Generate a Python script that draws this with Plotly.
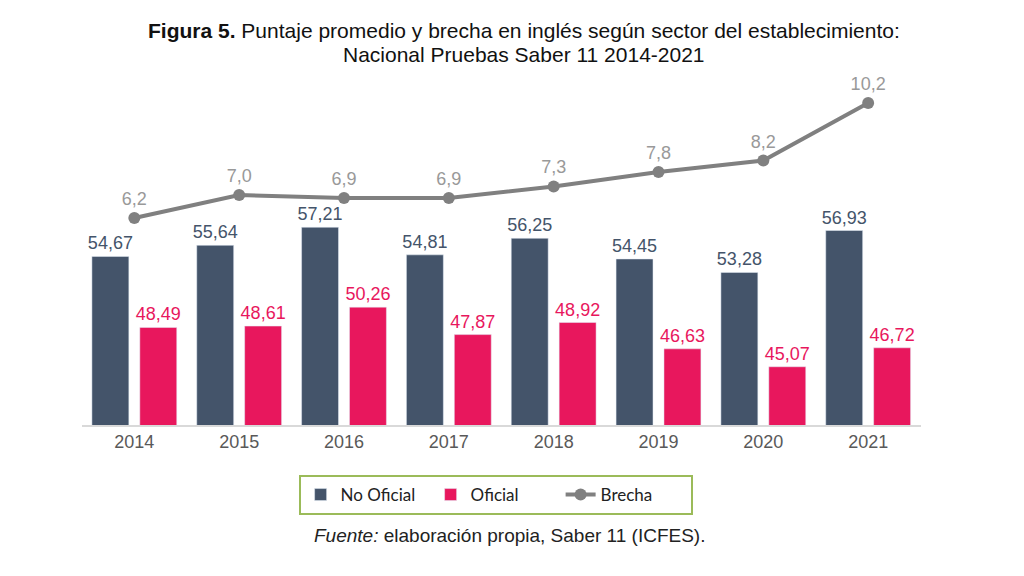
import plotly.graph_objects as go

years = ["2014", "2015", "2016", "2017", "2018", "2019", "2020", "2021"]
no_oficial = [54.67, 55.64, 57.21, 54.81, 56.25, 54.45, 53.28, 56.93]
oficial = [48.49, 48.61, 50.26, 47.87, 48.92, 46.63, 45.07, 46.72]
brecha = [6.2, 7.0, 6.9, 6.9, 7.3, 7.8, 8.2, 10.2]

C_NO = "#44546A"
C_OF = "#E8175D"
C_BR = "#808080"
FONT = "Liberation Sans, Arial, sans-serif"


def fmt(v, d):
    return f"{v:.{d}f}".replace(".", ",")


fig = go.Figure()
fig.add_trace(go.Bar(
    x=years, y=no_oficial, name="No Oficial", marker_color=C_NO,
    text=[fmt(v, 2) for v in no_oficial], textposition="outside", constraintext="none",
    textfont=dict(color=C_NO, size=18, family=FONT),
))
fig.add_trace(go.Bar(
    x=years, y=oficial, name="Oficial", marker_color=C_OF,
    text=[fmt(v, 2) for v in oficial], textposition="outside", constraintext="none",
    textfont=dict(color=C_OF, size=18, family=FONT),
))
fig.add_trace(go.Scatter(
    x=years, y=brecha, name="Brecha", yaxis="y2", mode="lines+markers+text",
    line=dict(color=C_BR, width=4), marker=dict(color=C_BR, size=12),
    text=[fmt(v, 1) for v in brecha], textposition="top center",
    textfont=dict(color="#999999", size=18, family=FONT),
))

fig.add_annotation(
    xref="paper", yref="paper", x=0.512, y=1 - 30 / 576, yanchor="middle",
    text="<b>Figura 5.</b> Puntaje promedio y brecha en inglés según sector del establecimiento:",
    showarrow=False, font=dict(size=21, color="#111111", family=FONT))
fig.add_annotation(
    xref="paper", yref="paper", x=0.512, y=1 - 54 / 576, yanchor="middle",
    text="Nacional Pruebas Saber 11 2014-2021",
    showarrow=False, font=dict(size=21, color="#111111", family=FONT))
fig.add_annotation(
    xref="paper", yref="paper", x=0.498, y=1 - 535 / 576, yanchor="middle",
    text="<i>Fuente:</i> elaboración propia, Saber 11 (ICFES).",
    showarrow=False, font=dict(size=19, color="#222222", family=FONT))

fig.update_layout(
    width=1024, height=576,
    margin=dict(l=0, r=0, t=0, b=0),
    paper_bgcolor="white", plot_bgcolor="white",
    barmode="group", bargap=0.086, bargroupgap=0.229,
    showlegend=True,
    legend=dict(orientation="h", x=0.484, xanchor="center", y=1 - 475 / 576, yanchor="top",
                bordercolor="#9BBB59", borderwidth=2,
                entrywidth=85, entrywidthmode="pixels",
                font=dict(size=17, color="#222222", family="Lato, sans-serif")),
    xaxis=dict(type="category", domain=[0.080, 0.899], showline=True, linecolor="#D9D9D9",
               linewidth=1.5, tickfont=dict(size=18, color="#595959", family=FONT), ticks=""),
    yaxis=dict(domain=[1 - 425 / 576, 1 - 70 / 576], range=[40, 70.9], visible=False),
    yaxis2=dict(overlaying="y", range=[-1.0, 11.35], visible=False),
)

fig.write_html("out.html", post_script="document.body.style.margin='0';",
               config={"displayModeBar": False})
